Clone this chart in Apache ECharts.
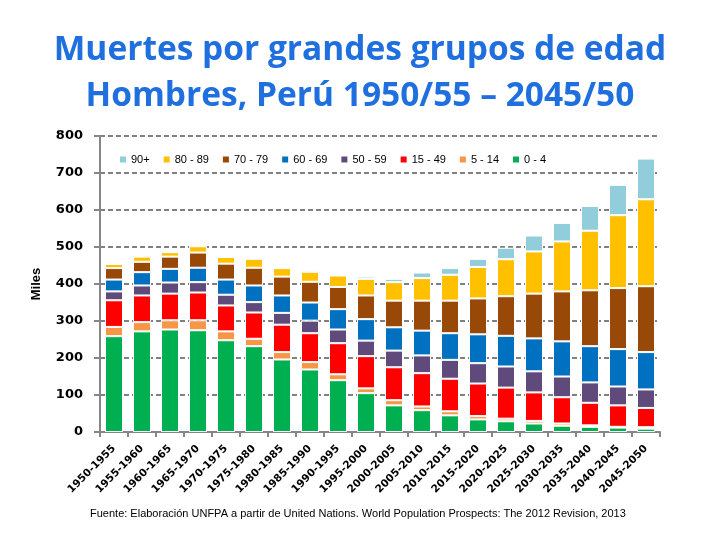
<!DOCTYPE html>
<html>
<head>
<meta charset="utf-8">
<script src="https://cdn.jsdelivr.net/npm/echarts@6/dist/echarts.min.js"></script>
<style>
html,body{margin:0;padding:0;background:#fff;}
#chart{width:720px;height:540px;}
</style>
</head>
<body>
<div id="chart"></div>
<script>
const categories = ["1950-1955","1955-1960","1960-1965","1965-1970","1970-1975","1975-1980","1980-1985","1985-1990","1990-1995","1995-2000","2000-2005","2005-2010","2010-2015","2015-2020","2020-2025","2025-2030","2030-2035","2035-2040","2040-2045","2045-2050"];

const age0_4   = [259,272,277,275,248,232,196,169,140,105,72,59,45,34,29,23,17,14,12,9];
const age5_14  = [25,25,25,27,24,20,20,20,16,13,14,10,11,9,7,7,6,4,2,4];
const age15_49 = [72,72,72,75,70,71,74,78,84,87,89,90,88,88,84,77,71,61,58,52];
const age50_59 = [24,27,30,28,29,28,32,34,37,42,45,48,51,55,57,57,56,55,51,50];
const age60_69 = [32,36,37,39,41,45,47,49,55,58,63,67,72,78,83,89,95,98,101,101];
const age70_79 = [31,28,33,41,43,48,51,56,60,64,72,81,88,97,107,121,135,151,165,178];
const age80_89 = [11,14,12,17,18,24,23,27,31,45,50,61,70,85,100,114,135,161,197,235];
const age90p   = [1,1,1,1,1,2,2,5,3,6,9,15,18,22,31,43,50,67,82,110];

const seriesNames = ["0 - 4","5 - 14","15 - 49","50 - 59","60 - 69","70 - 79","80 - 89","90+"];
const seriesData = [age0_4, age5_14, age15_49, age50_59, age60_69, age70_79, age80_89, age90p];
const seriesColors = ["#00B050","#F79646","#FF0000","#604A7B","#0070C0","#984807","#FFC000","#92CDDC"];

const yTicks = {min:0, max:800, interval:100};

const chart = echarts.init(document.getElementById('chart'));
const series = seriesNames.map((n,i)=>({
  name:n, type:'bar', stack:'total', data:seriesData[i], barWidth:18,
  itemStyle:{color:seriesColors[i], borderColor:'#ffffff', borderWidth:1},
  emphasis:{disabled:true}
}));
chart.setOption({
  animation:false,
  backgroundColor:'#ffffff',
  title:{
    text:'Muertes por grandes grupos de edad\nHombres, Perú 1950/55 – 2045/50',
    left:'center', top:22,
    textStyle:{fontFamily:'Open Sans', fontWeight:'bold', fontSize:33.5, color:'#1F70DE', lineHeight:46}
  },
  graphic:[{
    type:'text', left:90, top:508,
    style:{text:'Fuente: Elaboración UNFPA a partir de United Nations. World Population Prospects: The 2012 Revision, 2013',
      font:'11px "Liberation Sans"', fill:'#000'}
  }],
  legend:{
    data:seriesNames.slice().reverse(),
    top:149, left:113, itemWidth:8, itemHeight:8, itemGap:12,
    icon:'rect',
    textStyle:{fontFamily:'Liberation Sans', fontSize:11, color:'#000', padding:[0,0,0,-1]}
  },
  grid:{left:100, right:60, top:136, bottom:108, containLabel:false},
  xAxis:{
    type:'category', data:categories,
    axisLine:{lineStyle:{color:'#868686', width:2}},
    axisTick:{show:true, length:5, lineStyle:{color:'#868686', width:2}},
    axisLabel:{rotate:45, interval:0, margin:15, fontFamily:'DejaVu Sans', fontWeight:'bold', fontSize:10.5, color:'#000'}
  },
  yAxis:{
    type:'value', min:yTicks.min, max:yTicks.max, interval:yTicks.interval,
    name:'Miles', nameLocation:'middle', nameRotate:90, nameGap:57,
    nameTextStyle:{fontFamily:'Liberation Sans', fontWeight:'bold', fontSize:13, color:'#000'},
    axisLine:{show:true, lineStyle:{color:'#868686', width:2}},
    axisTick:{show:true, length:6, lineStyle:{color:'#868686', width:2}},
    axisLabel:{margin:17, fontFamily:'DejaVu Sans', fontWeight:'bold', fontSize:13, color:'#000'},
    splitLine:{show:true, lineStyle:{color:'#808080', width:2, type:[5,3]}}
  },
  series:series
});
</script>
</body>
</html>
